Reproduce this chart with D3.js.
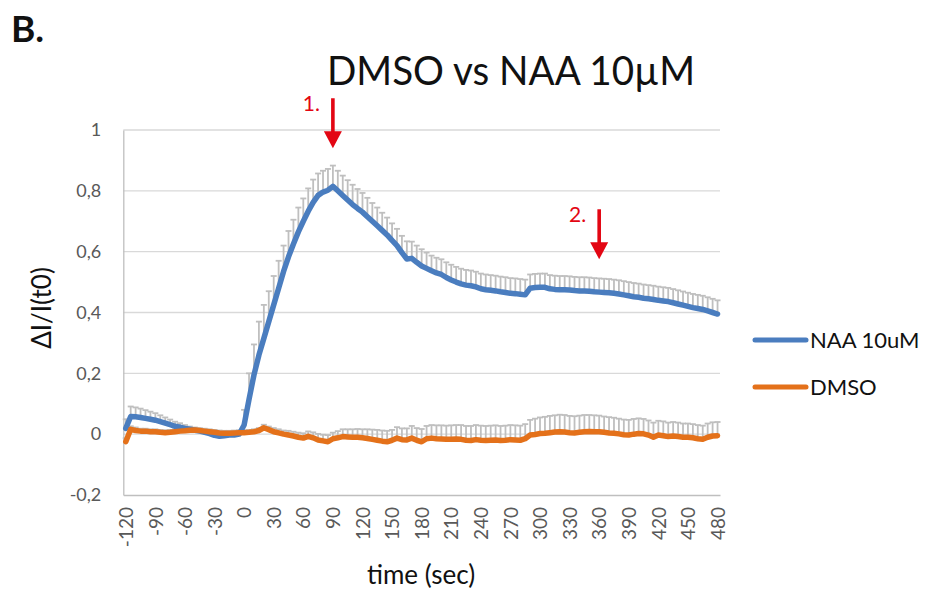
<!DOCTYPE html>
<html>
<head>
<meta charset="utf-8">
<script src="https://cdn.jsdelivr.net/npm/d3@7"></script>
<style>
  body { margin: 0; background: #fff; }
  svg { display: block; }
</style>
</head>
<body>
<div id="vis"></div>
<script>
// sample times (sec), one every 5 s
const times = [
  -120, -115, -110, -105, -100, -95, -90, -85, -80, -75, -70, -65,
  -60, -55, -50, -45, -40, -35, -30, -25, -20, -15, -10, -5,
  0, 5, 10, 15, 20, 25, 30, 35, 40, 45, 50, 55,
  60, 65, 70, 75, 80, 85, 90, 95, 100, 105, 110, 115,
  120, 125, 130, 135, 140, 145, 150, 155, 160, 165, 170, 175,
  180, 185, 190, 195, 200, 205, 210, 215, 220, 225, 230, 235,
  240, 245, 250, 255, 260, 265, 270, 275, 280, 285, 290, 295,
  300, 305, 310, 315, 320, 325, 330, 335, 340, 345, 350, 355,
  360, 365, 370, 375, 380, 385, 390, 395, 400, 405, 410, 415,
  420, 425, 430, 435, 440, 445, 450, 455, 460, 465, 470, 475,
  480
]

// NAA 10uM mean dI/I(t0)
const naa = [
  .019, .058, .057, .055, .052, .049, .046, .041, .036, .031, .026, .023,
  .019, .016, .013, .010, .006, .002, -.004, -.007, -.005, -.003, -.003, .000,
  .030, .115, .195, .260, .315, .370, .425, .480, .535, .583, .625, .665,
  .700, .733, .762, .785, .796, .802, .815, .800, .785, .770, .755, .742,
  .730, .715, .700, .685, .670, .655, .637, .620, .597, .576, .578, .565,
  .553, .545, .537, .530, .525, .515, .507, .500, .494, .490, .488, .484,
  .478, .475, .473, .471, .468, .466, .463, .462, .460, .458, .480, .482,
  .483, .483, .478, .476, .475, .475, .474, .472, .471, .471, .470, .468,
  .467, .466, .465, .463, .461, .458, .455, .452, .450, .447, .445, .443,
  .440, .438, .436, .432, .428, .424, .420, .416, .413, .410, .405, .400,
  .395
]

// NAA 10uM error (upper bar)
const naaErr = [
  .030, .033, .031, .029, .027, .025, .023, .021, .019, .017, .015, .013,
  .011, .009, .007, .005, .004, .003, .003, .003, .003, .003, .003, .003,
  .050, .085, .100, .110, .110, .100, .095, .090, .085, .085, .080, .080,
  .075, .075, .075, .072, .070, .070, .068, .066, .065, .065, .065, .064,
  .063, .062, .060, .060, .058, .057, .056, .055, .055, .058, .055, .055,
  .055, .052, .050, .050, .050, .050, .050, .050, .050, .050, .050, .050,
  .050, .050, .050, .050, .050, .050, .050, .050, .050, .050, .045, .045,
  .045, .045, .045, .045, .045, .045, .045, .045, .045, .045, .045, .045,
  .045, .045, .045, .045, .045, .045, .045, .045, .045, .045, .045, .045,
  .045, .045, .045, .045, .045, .045, .045, .045, .045, .045, .045, .045,
  .045
]

// DMSO mean dI/I(t0)
const dmso = [
  -.025, .016, .012, .010, .010, .008, .008, .006, .005, .006, .008, .010,
  .011, .013, .014, .012, .010, .008, .006, .004, .003, .003, .004, .005,
  .005, .006, .008, .012, .021, .015, .008, .004, .000, -.003, -.006, -.010,
  -.013, -.007, -.012, -.019, -.022, -.025, -.015, -.012, -.008, -.009, -.010, -.010,
  -.012, -.014, -.017, -.020, -.023, -.025, -.020, -.013, -.018, -.019, -.013, -.020,
  -.025, -.015, -.013, -.015, -.016, -.017, -.017, -.016, -.017, -.020, -.021, -.018,
  -.020, -.021, -.020, -.019, -.021, -.020, -.018, -.019, -.020, -.015, -.003, -.001,
  .002, .003, .005, .007, .008, .007, .005, .004, .006, .008, .009, .008,
  .008, .006, .004, .003, .001, -.002, -.003, .000, .002, .001, -.003, -.010,
  -.003, -.005, -.008, -.006, -.008, -.010, -.010, -.012, -.015, -.017, -.010, -.006,
  -.005
]

// DMSO error (upper bar)
const dmsoErr = [
  .012, .010, .010, .008, .008, .008, .008, .008, .008, .008, .008, .008,
  .008, .008, .008, .008, .008, .008, .008, .008, .008, .008, .008, .008,
  .008, .008, .008, .008, .010, .010, .012, .012, .012, .014, .014, .015,
  .016, .016, .018, .020, .020, .022, .020, .022, .024, .025, .026, .027,
  .028, .030, .032, .034, .035, .036, .034, .036, .037, .038, .040, .040,
  .042, .042, .043, .044, .045, .045, .046, .046, .047, .047, .048, .048,
  .048, .048, .048, .048, .048, .048, .048, .048, .048, .048, .050, .052,
  .053, .054, .055, .055, .056, .056, .055, .055, .055, .055, .054, .054,
  .053, .052, .052, .051, .050, .050, .050, .050, .050, .049, .048, .048,
  .047, .047, .046, .046, .046, .045, .045, .045, .045, .045, .045, .045,
  .045
]

const xTickLabels = [-120, -90, -60, -30, 0, 30, 60, 90, 120, 150, 180, 210,
  240, 270, 300, 330, 360, 390, 420, 450, 480]
const yTicks = [-0.2, 0, 0.2, 0.4, 0.6, 0.8, 1]
const seriesNames = ['NAA 10uM', 'DMSO']
const seriesColors = ['#4a7dbf', '#e4711a']

// red markers: time, value at arrow tip, label
const arrowTimes = [90, 360]
const arrowTips = [0.94, 0.575]
const arrowLabels = ['1.', '2.']

const width = 932, height = 593
const plot = { left: 123.3, right: 720, top: 130, bottom: 495 }
const font = 'Lato, "Open Sans", "DejaVu Sans", sans-serif'

let svg = d3.select('#vis')
  .append('svg')
  .attr('width', width)
  .attr('height', height)
  .style('background-color', 'white')

let x = d3.scalePoint()
  .domain(times)
  .range([plot.left, plot.right])
  .padding(0.5)

let y = d3.scaleLinear()
  .domain([-0.2, 1])
  .range([plot.bottom, plot.top])

// gridlines
svg.append('g')
  .selectAll('line')
  .data(yTicks.filter(d => d > -0.2))
  .join('line')
  .attr('x1', plot.left)
  .attr('x2', plot.right)
  .attr('y1', d => y(d))
  .attr('y2', d => y(d))
  .attr('stroke', '#d9d9d9')
  .attr('stroke-width', 1.3)

// y axis labels
let yAxis = svg.append('g')
  .attr('transform', `translate(${plot.left},0)`)
  .call(d3.axisLeft(y).tickValues(yTicks).tickSize(0).tickPadding(22)
    .tickFormat(d => d === 0 ? '0' : d === 1 ? '1' : d.toFixed(1).replace('.', ',')))
yAxis.select('.domain').attr('stroke', '#bfbfbf').attr('stroke-width', 1.3)
yAxis.selectAll('text')
  .style('font-family', font)
  .style('font-size', '18px')
  .attr('fill', '#595959')

// x axis labels, rotated
let xAxis = svg.append('g')
  .attr('transform', `translate(0,${plot.bottom})`)
  .call(d3.axisBottom(x).tickValues(xTickLabels).tickSize(0))
xAxis.select('.domain').attr('stroke', '#bfbfbf').attr('stroke-width', 1.3)
xAxis.selectAll('text')
  .attr('transform', 'rotate(-90)')
  .attr('x', -12)
  .attr('y', 0)
  .attr('dy', '.35em')
  .style('text-anchor', 'end')
  .style('font-family', font)
  .style('font-size', '19px')
  .attr('fill', '#595959')

// error bars, upper side only
function errorBars(values, errs) {
  let g = svg.append('g')
    .attr('stroke', '#bfbfbf')
    .attr('stroke-width', 1.8)
  let pts = times.map((t, i) => ({ t: t, v: values[i], e: errs[i] }))
  g.selectAll('line.stem')
    .data(pts)
    .join('line')
    .attr('class', 'stem')
    .attr('x1', d => x(d.t))
    .attr('x2', d => x(d.t))
    .attr('y1', d => y(d.v))
    .attr('y2', d => y(d.v + d.e))
  g.selectAll('line.cap')
    .data(pts)
    .join('line')
    .attr('class', 'cap')
    .attr('x1', d => x(d.t) - 3)
    .attr('x2', d => x(d.t) + 3)
    .attr('y1', d => y(d.v + d.e))
    .attr('y2', d => y(d.v + d.e))
}
errorBars(naa, naaErr)
errorBars(dmso, dmsoErr)

let line = d3.line()
  .x((d, i) => x(times[i]))
  .y(d => y(d))

;[naa, dmso].forEach((s, k) => {
  svg.append('path')
    .datum(s)
    .attr('d', line)
    .attr('fill', 'none')
    .attr('stroke', seriesColors[k])
    .attr('stroke-width', 5.5)
    .attr('stroke-linejoin', 'round')
    .attr('stroke-linecap', 'round')
})

// red arrows
arrowTimes.forEach((t, i) => {
  let ax = x(t)
  let tip = y(arrowTips[i])
  let g = svg.append('g').attr('fill', '#e30613')
  g.append('rect')
    .attr('x', ax - 1.8)
    .attr('y', tip - 50)
    .attr('width', 3.6)
    .attr('height', 36)
  g.append('path')
    .attr('d', `M${ax - 9},${tip - 17} L${ax + 9},${tip - 17} L${ax},${tip} Z`)
  g.append('text')
    .attr('x', ax - 13)
    .attr('y', tip - 37)
    .attr('text-anchor', 'end')
    .style('font-family', font)
    .style('font-size', '21px')
    .text(arrowLabels[i])
})

// legend
seriesNames.forEach((name, i) => {
  let ly = 340 + i * 47
  svg.append('line')
    .attr('x1', 755).attr('x2', 806)
    .attr('y1', ly).attr('y2', ly)
    .attr('stroke', seriesColors[i])
    .attr('stroke-width', 5)
    .attr('stroke-linecap', 'round')
  svg.append('text')
    .attr('x', 810)
    .attr('y', ly + 8)
    .style('font-family', font)
    .style('font-size', '22px')
    .attr('fill', '#111')
    .text(name)
})

// titles
svg.append('text')
  .attr('x', 511)
  .attr('y', 85)
  .attr('text-anchor', 'middle')
  .style('font-family', font)
  .style('font-size', '41px')
  .attr('fill', '#111')
  .attr('textLength', 368)
  .attr('lengthAdjust', 'spacingAndGlyphs')
  .text('DMSO vs NAA 10µM')

svg.append('text')
  .attr('x', 11)
  .attr('y', 42)
  .style('font-family', font)
  .style('font-size', '37px')
  .style('font-weight', 'bold')
  .attr('fill', '#111')
  .text('B.')

svg.append('text')
  .attr('transform', 'translate(51,308) rotate(-90)')
  .attr('text-anchor', 'middle')
  .style('font-family', font)
  .style('font-size', '26px')
  .attr('fill', '#111')
  .text('ΔI/I(t0)')

svg.append('text')
  .attr('x', 421)
  .attr('y', 584)
  .attr('text-anchor', 'middle')
  .style('font-family', font)
  .style('font-size', '26px')
  .attr('fill', '#111')
  .text('time (sec)')
</script>
</body>
</html>
